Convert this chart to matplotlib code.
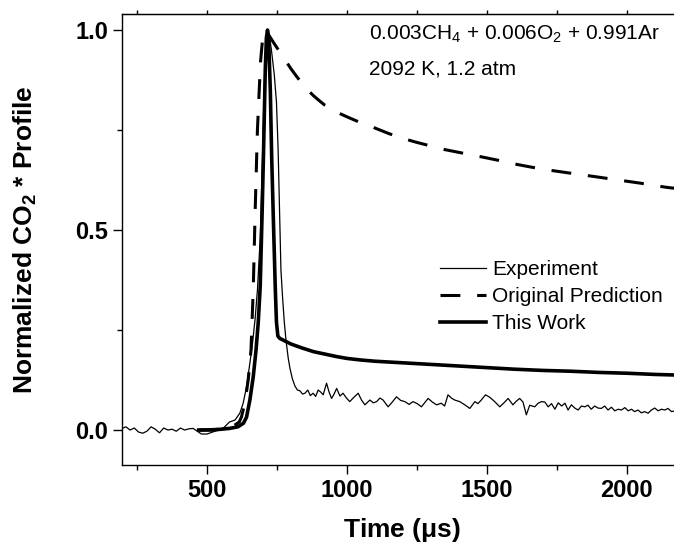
import matplotlib
matplotlib.use("Agg")
import matplotlib.pyplot as plt
from matplotlib.ticker import MultipleLocator

plt.rcParams['font.family'] = ['Liberation Sans', 'DejaVu Sans']
plt.rcParams['mathtext.fontset'] = 'custom'
plt.rcParams['mathtext.rm'] = 'Liberation Sans'
plt.rcParams['mathtext.bf'] = 'Liberation Sans:bold'

# measured CO2* emission (thin trace)
exp_t = [200, 210, 225, 240, 255, 270, 285, 300, 315, 330, 345, 360, 375, 390,
         405, 420, 435, 450, 465, 480, 500, 520, 540, 560, 580, 600, 617, 629,
         641, 653, 663, 672, 680, 690, 698, 704, 710, 716, 722, 730, 740, 748,
         754, 759, 764, 770, 776, 782, 790, 796, 805, 814, 823, 832, 841, 850,
         860, 869, 879, 888, 897, 906, 915, 927, 936, 945, 954, 963, 975, 986,
         998, 1010, 1025, 1040, 1052, 1064, 1082, 1094, 1106, 1118, 1129, 1147,
         1162, 1177, 1192, 1207, 1222, 1236, 1251, 1266, 1290, 1305, 1320, 1337,
         1349, 1361, 1373, 1385, 1403, 1421, 1439, 1457, 1468, 1480, 1495, 1510,
         1528, 1546, 1561, 1576, 1593, 1605, 1617, 1629, 1641, 1653, 1671, 1683,
         1695, 1707, 1719, 1731, 1743, 1755, 1767, 1779, 1790, 1802, 1814, 1826,
         1838, 1850, 1861, 1873, 1885, 1897, 1909, 1921, 1933, 1945, 1957, 1969,
         1981, 1993, 2005, 2017, 2028, 2040, 2052, 2064, 2076, 2088, 2100, 2112,
         2124, 2136, 2147, 2160, 2172, 2200]
exp_v = [0.005, 0.008, 0.000, 0.005, -0.005, -0.008, -0.003, 0.008, 0.002, -0.007,
         0.005, 0.000, 0.002, -0.003, 0.005, 0.000, 0.003, 0.004, -0.003, -0.010,
         -0.010, -0.005, 0.000, 0.006, 0.020, 0.025, 0.042, 0.067, 0.108, 0.167,
         0.220, 0.280, 0.350, 0.480, 0.680, 0.850, 0.960, 1.000, 0.990, 0.950,
         0.890, 0.820, 0.700, 0.550, 0.400, 0.330, 0.270, 0.225, 0.180, 0.155,
         0.128, 0.110, 0.100, 0.098, 0.090, 0.092, 0.100, 0.086, 0.092, 0.084,
         0.100, 0.095, 0.088, 0.117, 0.095, 0.079, 0.090, 0.104, 0.085, 0.092,
         0.080, 0.071, 0.082, 0.092, 0.075, 0.063, 0.075, 0.068, 0.071, 0.080,
         0.075, 0.058, 0.070, 0.083, 0.074, 0.071, 0.064, 0.071, 0.066, 0.058,
         0.079, 0.070, 0.063, 0.067, 0.060, 0.088, 0.080, 0.075, 0.071, 0.063,
         0.054, 0.071, 0.066, 0.075, 0.088, 0.082, 0.071, 0.058, 0.068, 0.079,
         0.063, 0.072, 0.079, 0.070, 0.038, 0.062, 0.058, 0.067, 0.071, 0.070,
         0.058, 0.066, 0.052, 0.068, 0.060, 0.067, 0.050, 0.063, 0.055, 0.050,
         0.060, 0.058, 0.062, 0.052, 0.060, 0.055, 0.054, 0.060, 0.050, 0.057,
         0.048, 0.052, 0.050, 0.056, 0.048, 0.052, 0.046, 0.050, 0.043, 0.046,
         0.042, 0.050, 0.055, 0.048, 0.052, 0.050, 0.054, 0.046, 0.048, 0.045]

# original mechanism prediction (dashed)
orig_t = [470, 540, 590, 615, 623, 635, 647, 657, 665, 672, 680, 691, 700, 708,
          720, 740, 760, 780, 800, 820, 840, 860, 880, 900, 921, 950, 975, 1000,
          1050, 1100, 1150, 1200, 1250, 1300, 1350, 1415, 1480, 1550, 1600, 1653,
          1700, 1750, 1800, 1850, 1891, 1950, 2000, 2050, 2100, 2150, 2200]
orig_v = [0.000, 0.002, 0.008, 0.020, 0.033, 0.067, 0.125, 0.200, 0.350, 0.550,
          0.750, 0.920, 0.990, 1.000, 0.988, 0.966, 0.945, 0.924, 0.903, 0.884,
          0.866, 0.850, 0.836, 0.824, 0.812, 0.800, 0.791, 0.783, 0.768, 0.755,
          0.741, 0.729, 0.719, 0.710, 0.701, 0.692, 0.683, 0.673, 0.665, 0.658,
          0.652, 0.647, 0.642, 0.637, 0.633, 0.627, 0.622, 0.617, 0.611, 0.606,
          0.602]

# updated mechanism (thick solid)
work_t = [470, 520, 580, 610, 630, 641, 653, 665, 675, 683, 690, 697, 702, 708,
          712, 716, 720, 726, 731, 738, 744, 748, 753, 760, 780, 800, 840, 880,
          920, 960, 1000, 1050, 1100, 1150, 1200, 1300, 1400, 1500, 1600, 1700,
          1800, 1900, 2000, 2100, 2200]
work_v = [0.000, 0.000, 0.004, 0.008, 0.017, 0.032, 0.075, 0.133, 0.200, 0.270,
          0.360, 0.550, 0.700, 0.900, 0.980, 1.000, 0.980, 0.850, 0.680, 0.500,
          0.350, 0.270, 0.235, 0.229, 0.222, 0.215, 0.205, 0.196, 0.190, 0.184,
          0.179, 0.175, 0.172, 0.170, 0.168, 0.164, 0.160, 0.156, 0.152, 0.149,
          0.147, 0.144, 0.142, 0.139, 0.137]

fig = plt.figure(figsize=(6.74, 5.5), dpi=100)
ax = fig.add_axes([0.181, 0.1545, 0.832, 0.82])

ax.plot(exp_t, exp_v, color='black', lw=0.9, label='Experiment')
ax.plot(orig_t, orig_v, color='black', lw=2.2, dashes=(6.5, 5.5), label='Original Prediction')
ax.plot(work_t, work_v, color='black', lw=2.6, label='This Work')

ax.set_xlim(196, 2200)
ax.set_ylim(-0.0875, 1.04)
ax.xaxis.set_major_locator(MultipleLocator(500))
ax.xaxis.set_minor_locator(MultipleLocator(250))
ax.yaxis.set_major_locator(MultipleLocator(0.5))
ax.yaxis.set_minor_locator(MultipleLocator(0.25))
ax.yaxis.set_major_formatter(plt.FormatStrFormatter('%.1f'))

ax.spines['right'].set_visible(False)
for s in ax.spines.values():
    s.set_linewidth(1.0)
ax.tick_params(which='major', direction='out', length=6.5, width=1.0, labelsize=17)
ax.tick_params(which='minor', direction='out', length=3.5, width=1.0)
for lab in ax.get_xticklabels() + ax.get_yticklabels():
    lab.set_fontweight('bold')

top = ax.secondary_xaxis('top')
top.xaxis.set_major_locator(MultipleLocator(250))
top.tick_params(direction='out', length=3, width=1.0, labeltop=False)

ax.set_xlabel(r'Time ($\mathbf{\mu}$s)', fontsize=19, fontweight='bold', labelpad=10)
ax.set_ylabel(r'Normalized CO$_\mathbf{2}$ * Profile', fontsize=19, fontweight='bold', labelpad=26)

ax.text(0.5475, 0.958, r'0.003CH$_4$ + 0.006O$_2$ + 0.991Ar', transform=fig.transFigure,
        fontsize=15, va='top', ha='left')
ax.text(0.5475, 0.892, '2092 K, 1.2 atm', transform=fig.transFigure,
        fontsize=15, va='top', ha='left')

ax.legend(loc='upper left', bbox_to_anchor=(440 / 674, 1 - 260 / 550),
          bbox_transform=fig.transFigure, frameon=False, fontsize=15,
          handlelength=2.2, handletextpad=0.3, labelspacing=0.38,
          borderpad=0, borderaxespad=0)

fig.savefig('out.png', dpi=100)
